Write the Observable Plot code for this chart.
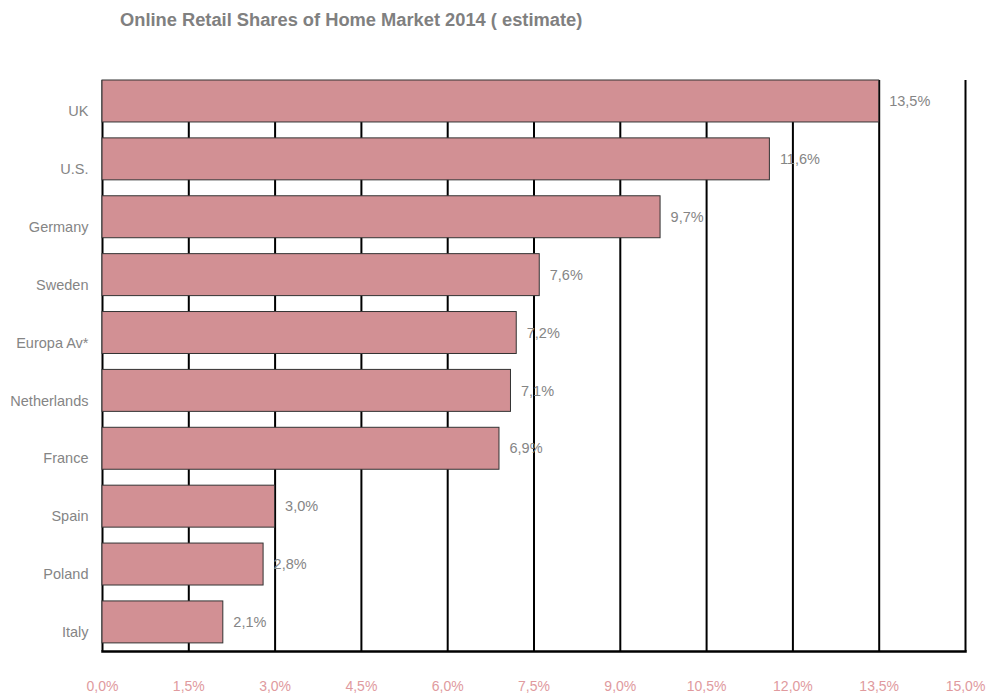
<!DOCTYPE html>
<html>
<head>
<meta charset="utf-8">
<script src="https://cdn.jsdelivr.net/npm/d3@7"></script>
<script src="https://cdn.jsdelivr.net/npm/@observablehq/plot@0.6"></script>
<style>
  body { margin: 0; background: #fff; font-family: "Liberation Sans", Arial, sans-serif; }
  #wrap { position: relative; width: 992px; height: 695px; }
  #title { position: absolute; left: 120px; top: 9px; font-size: 18.3px; font-weight: bold; color: #808080; white-space: nowrap; }
  #chart { position: absolute; left: 0; top: 0; }
</style>
</head>
<body>
<div id="wrap">
  <div id="title">Online Retail Shares of Home Market 2014 ( estimate)</div>
  <div id="chart"></div>
</div>
<script>
const countries = ["UK", "U.S.", "Germany", "Sweden", "Europa Av*", "Netherlands", "France", "Spain", "Poland", "Italy"];
const shares = [13.5, 11.6, 9.7, 7.6, 7.2, 7.1, 6.9, 3.0, 2.8, 2.1];
const xTicks = [0, 1.5, 3, 4.5, 6, 7.5, 9, 10.5, 12, 13.5, 15];

const data = countries.map((c, i) => ({country: c, share: shares[i]}));
const fmt = v => v.toFixed(1).replace(".", ",") + "%";

const plot = Plot.plot({
  width: 992,
  height: 695,
  marginTop: 80,
  marginBottom: 44,
  marginLeft: 102,
  marginRight: 27,
  style: {fontFamily: "Liberation Sans, Arial, sans-serif", background: "transparent"},
  x: {domain: [0, 15], ticks: xTicks, tickFormat: fmt, tickSize: 0, label: null},
  y: {domain: countries, paddingInner: 0.275, paddingOuter: 0.07, align: 0, round: false, tickSize: 0, label: null},
  marks: [
    Plot.ruleX(xTicks, {stroke: "#000", strokeWidth: 2, strokeOpacity: 1}),
    Plot.frame({anchor: "bottom", stroke: "#000", strokeWidth: 2.5}),
    Plot.barX(data, {x: "share", y: "country", fill: "#d29094", stroke: "#333", strokeWidth: 1}),
    Plot.text(data, {x: "share", y: "country", text: d => fmt(d.share), textAnchor: "start", dx: 10, fill: "#858585", fontSize: 14.5}),
    Plot.axisX({ticks: xTicks, tickFormat: fmt, tickSize: 0, tickPadding: 30, fill: "#e09a9e", fontSize: 14, label: null}),
    Plot.axisY({tickSize: 0, tickPadding: 14, dy: 10, fill: "#858585", fontSize: 14.5, label: null})
  ]
});
document.getElementById("chart").appendChild(plot);
</script>
</body>
</html>
